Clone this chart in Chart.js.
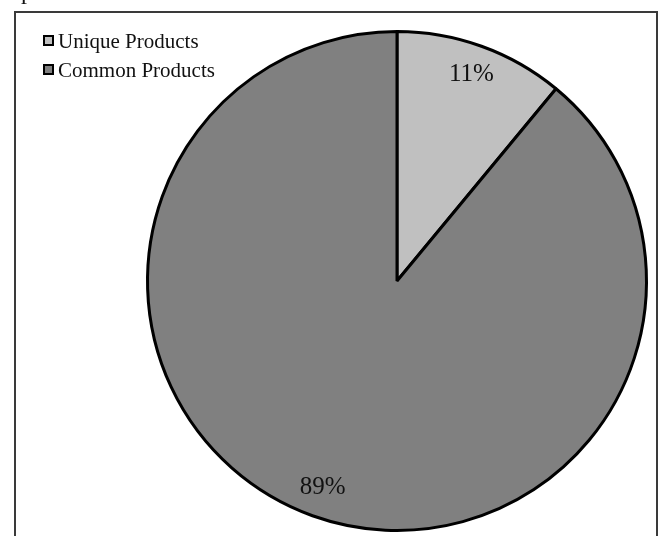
<!DOCTYPE html>
<html>
<head>
<meta charset="utf-8">
<title>Unique vs Common Products</title>
<script src="https://cdn.jsdelivr.net/npm/chart.js@4.4.1/dist/chart.umd.min.js"></script>
<style>
    html, body { margin: 0; padding: 0; background: #fff; }
    #wrap { width: 665px; height: 536px; }
</style>
</head>
<body>
<div id="wrap"><canvas id="productChart" width="665" height="536"></canvas></div>
<script>
const categories = ['Unique Products', 'Common Products'];
const shares = [11, 89];
const sliceColors = ['#C0C0C0', '#808080'];

const serif = '"Liberation Serif", "Times New Roman", serif';

// outer frame plus the tail of the text line above it
const framePlugin = {
    id: 'frame',
    beforeDraw(chart) {
        const ctx = chart.ctx;
        ctx.save();
        ctx.fillStyle = '#fff';
        ctx.fillRect(0, 0, chart.width, chart.height);
        ctx.strokeStyle = '#3a3a3a';
        ctx.lineWidth = 2;
        ctx.beginPath();
        ctx.moveTo(15, chart.height + 5);
        ctx.lineTo(15, 12);
        ctx.lineTo(657, 12);
        ctx.lineTo(657, chart.height + 5);
        ctx.stroke();
        ctx.fillStyle = '#111';
        ctx.font = '24px ' + serif;
        ctx.textBaseline = 'alphabetic';
        ctx.fillText('p', 21, -1);
        ctx.restore();
    }
};

// legend in the top-left corner, stacked
const legendPlugin = {
    id: 'cornerLegend',
    afterDraw(chart) {
        const ctx = chart.ctx;
        const ds = chart.data.datasets[0];
        ctx.save();
        ctx.font = '21px ' + serif;
        ctx.textBaseline = 'middle';
        chart.data.labels.forEach((lbl, i) => {
            const y = 41 + i * 29;
            ctx.fillStyle = ds.backgroundColor[i];
            ctx.fillRect(44, y - 5, 9, 9);
            ctx.strokeStyle = '#000';
            ctx.lineWidth = 2;
            ctx.strokeRect(44, y - 5, 9, 9);
            ctx.fillStyle = '#111';
            ctx.fillText(lbl, 58, y + 1);
        });
        ctx.restore();
    }
};

// percentage labels inside the slices
const valueLabels = {
    id: 'valueLabels',
    afterDatasetsDraw(chart) {
        const ctx = chart.ctx;
        const meta = chart.getDatasetMeta(0);
        const values = chart.data.datasets[0].data;
        ctx.save();
        ctx.font = '25px ' + serif;
        ctx.fillStyle = '#111';
        ctx.textAlign = 'center';
        ctx.textBaseline = 'middle';
        meta.data.forEach((arc, i) => {
            const p = arc.getProps(['x', 'y', 'startAngle', 'endAngle', 'outerRadius'], true);
            const mid = (p.startAngle + p.endAngle) / 2;
            const r = p.outerRadius * 0.88;
            ctx.fillText(values[i] + '%', p.x + Math.cos(mid) * r, p.y + Math.sin(mid) * r);
        });
        ctx.restore();
    }
};

const ctx = document.getElementById('productChart').getContext('2d');
new Chart(ctx, {
    type: 'pie',
    data: {
        labels: categories,
        datasets: [{
            data: shares,
            backgroundColor: sliceColors,
            borderColor: '#000',
            borderWidth: 3,
            hoverBorderWidth: 3,
            hoverOffset: 0
        }]
    },
    options: {
        responsive: false,
        animation: false,
        events: [],
        layout: {
            padding: { left: 146, right: 17, top: 30, bottom: 4 }
        },
        plugins: {
            legend: { display: false },
            tooltip: { enabled: false }
        }
    },
    plugins: [framePlugin, legendPlugin, valueLabels]
});
</script>
</body>
</html>
